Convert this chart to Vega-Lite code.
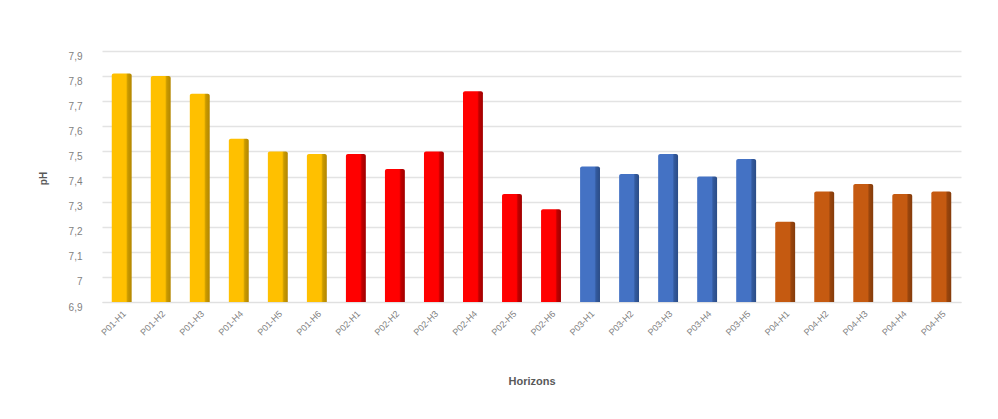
{
  "$schema": "https://vega.github.io/schema/vega-lite/v6.json",
  "autosize": "none",
  "width": 859,
  "height": 251,
  "padding": {"left": 102, "top": 51, "right": 37, "bottom": 117},
  "background": "white",
  "config": {"view": {"stroke": null}, "font": "Liberation Sans"},
  "data": {"values": [
    {"h": "P01-H1", "g": "P01", "ph": 7.81},
    {"h": "P01-H2", "g": "P01", "ph": 7.80},
    {"h": "P01-H3", "g": "P01", "ph": 7.73},
    {"h": "P01-H4", "g": "P01", "ph": 7.55},
    {"h": "P01-H5", "g": "P01", "ph": 7.50},
    {"h": "P01-H6", "g": "P01", "ph": 7.49},
    {"h": "P02-H1", "g": "P02", "ph": 7.49},
    {"h": "P02-H2", "g": "P02", "ph": 7.43},
    {"h": "P02-H3", "g": "P02", "ph": 7.50},
    {"h": "P02-H4", "g": "P02", "ph": 7.74},
    {"h": "P02-H5", "g": "P02", "ph": 7.33},
    {"h": "P02-H6", "g": "P02", "ph": 7.27},
    {"h": "P03-H1", "g": "P03", "ph": 7.44},
    {"h": "P03-H2", "g": "P03", "ph": 7.41},
    {"h": "P03-H3", "g": "P03", "ph": 7.49},
    {"h": "P03-H4", "g": "P03", "ph": 7.40},
    {"h": "P03-H5", "g": "P03", "ph": 7.47},
    {"h": "P04-H1", "g": "P04", "ph": 7.22},
    {"h": "P04-H2", "g": "P04", "ph": 7.34},
    {"h": "P04-H3", "g": "P04", "ph": 7.37},
    {"h": "P04-H4", "g": "P04", "ph": 7.33},
    {"h": "P04-H5", "g": "P04", "ph": 7.34}
  ]},
  "encoding": {
    "x": {
      "field": "h", "type": "nominal", "sort": null,
      "scale": {"paddingInner": 0.49, "paddingOuter": 0.25},
      "axis": {
        "title": "Horizons", "titleFontSize": 11, "titleFontWeight": "bold", "titleColor": "#595959",
        "titleY": 73, "labelAngle": -45, "labelFontSize": 9, "labelColor": "#7f7f7f",
        "labelPadding": 7, "ticks": false, "domainColor": "#e0e0e0"
      }
    },
    "y": {
      "field": "ph", "type": "quantitative",
      "scale": {"domain": [6.9, 7.9], "zero": false, "nice": false},
      "axis": {
        "title": "pH", "titleFontSize": 10, "titleFontWeight": "bold", "titleColor": "#595959",
        "titleX": -54, "titleY": 127, "titleAngle": -90,
        "values": [6.9, 7.0, 7.1, 7.2, 7.3, 7.4, 7.5, 7.6, 7.7, 7.8, 7.9],
        "labelExpr": "replace(format(datum.value, '.1~f'), '.', ',')",
        "labelFontSize": 10, "labelColor": "#7f7f7f", "labelPadding": 20, "labelOffset": 5,
        "ticks": false, "domain": false, "gridColor": "#e3e3e3", "gridWidth": 1.5
      }
    },
    "y2": {"datum": 6.9}
  },
  "layer": [
    {"transform": [{"filter": "datum.g === 'P01'"}],
     "mark": {"type": "bar", "cornerRadiusTopLeft": 2, "cornerRadiusTopRight": 2,
       "color": {"gradient": "linear", "x1": 0, "x2": 1, "y1": 0, "y2": 0,
         "stops": [{"offset": 0, "color": "#FFC000"}, {"offset": 0.72, "color": "#FFC000"}, {"offset": 0.8, "color": "#C99A00"}, {"offset": 1, "color": "#B38600"}]}}},
    {"transform": [{"filter": "datum.g === 'P02'"}],
     "mark": {"type": "bar", "cornerRadiusTopLeft": 2, "cornerRadiusTopRight": 2,
       "color": {"gradient": "linear", "x1": 0, "x2": 1, "y1": 0, "y2": 0,
         "stops": [{"offset": 0, "color": "#FF0000"}, {"offset": 0.72, "color": "#FF0000"}, {"offset": 0.8, "color": "#C00000"}, {"offset": 1, "color": "#A00000"}]}}},
    {"transform": [{"filter": "datum.g === 'P03'"}],
     "mark": {"type": "bar", "cornerRadiusTopLeft": 2, "cornerRadiusTopRight": 2,
       "color": {"gradient": "linear", "x1": 0, "x2": 1, "y1": 0, "y2": 0,
         "stops": [{"offset": 0, "color": "#4472C4"}, {"offset": 0.72, "color": "#4472C4"}, {"offset": 0.8, "color": "#335A9E"}, {"offset": 1, "color": "#2B4C86"}]}}},
    {"transform": [{"filter": "datum.g === 'P04'"}],
     "mark": {"type": "bar", "cornerRadiusTopLeft": 2, "cornerRadiusTopRight": 2,
       "color": {"gradient": "linear", "x1": 0, "x2": 1, "y1": 0, "y2": 0,
         "stops": [{"offset": 0, "color": "#C55A11"}, {"offset": 0.72, "color": "#C55A11"}, {"offset": 0.8, "color": "#9A450C"}, {"offset": 1, "color": "#843C0C"}]}}}
  ]
}
